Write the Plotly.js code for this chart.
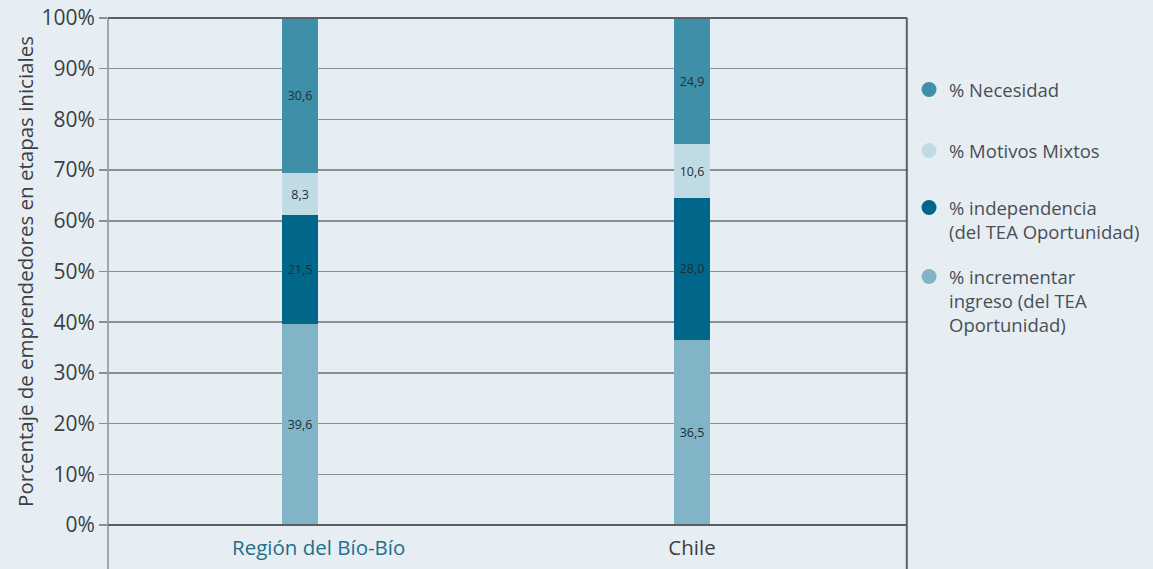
<!DOCTYPE html>
<html>
<head>
<meta charset="utf-8">
<script src="https://cdn.plot.ly/plotly-3.0.1.min.js"></script>
<style>html,body{margin:0;padding:0;background:#e6eef4;}#chart{width:1153px;height:569px;}</style>
</head>
<body>
<div id="chart"></div>
<script>
var categories = ["Región del Bío-Bío", "Chile"];
var tickLabels = ['<span style="color:#1f6f8b">&nbsp;&nbsp;&nbsp;&nbsp;&nbsp;&nbsp;&nbsp;Región del Bío-Bío</span>', 'Chile'];
var incrementar = [39.6, 36.5];
var independencia = [21.5, 28.0];
var mixtos = [8.3, 10.6];
var necesidad = [30.6, 24.9];
var seriesNames = ["% Necesidad", "% Motivos Mixtos", "% independencia<br>(del TEA Oportunidad)", "% incrementar<br>ingreso (del TEA<br>Oportunidad)"];
var seriesColors = ["#3f8fa8", "#c1dbe4", "#00678a", "#80b4c6"];
var yTicks = [0,10,20,30,40,50,60,70,80,90,100];
var yTickText = ["0%","10%","20%","30%","40%","50%","60%","70%","80%","90%","100%"];

function fmt(v){ return v.toFixed(1).replace('.', ','); }

var stackOrder = [
  {vals: incrementar, idx: 3},
  {vals: independencia, idx: 2},
  {vals: mixtos, idx: 1},
  {vals: necesidad, idx: 0}
];
var traces = [];
stackOrder.forEach(function(s){
  traces.push({
    type: 'bar', x: [0,1], y: s.vals,
    width: 0.092,
    marker: {color: seriesColors[s.idx], line: {width: 0}},
    text: s.vals.map(fmt), textposition: 'inside', insidetextanchor: 'middle',
    textangle: 0,
    textfont: {family: 'Open Sans, sans-serif', size: 12.5, color: '#1f2d36'},
    showlegend: false, hoverinfo: 'skip'
  });
});
// legend entries with circle markers, each in its own legend box
var legendIds = ['legend', 'legend2', 'legend3', 'legend4'];
[0,1,2,3].forEach(function(i){
  traces.push({
    type: 'scatter', mode: 'markers', x: [null], y: [null],
    name: seriesNames[i], legend: legendIds[i],
    marker: {color: seriesColors[i], size: 15, symbol: 'circle'},
    showlegend: true
  });
});

function legendBox(yTop){
  return {
    xref: 'container', yref: 'container',
    x: 0.7884, xanchor: 'left', y: yTop, yanchor: 'top',
    bgcolor: 'rgba(0,0,0,0)', font: {size: 18.5, color: '#4a4f54'},
    valign: 'top'
  };
}

var layout = {
  width: 1153, height: 569,
  paper_bgcolor: '#e6eef4', plot_bgcolor: '#e6eef4',
  margin: {l: 108, r: 245, t: 18, b: 44},
  barmode: 'stack',
  font: {family: 'Open Sans, sans-serif', color: '#3a3f44'},
  xaxis: {
    range: [-0.49, 1.551], tickvals: [0,1], ticktext: tickLabels,
    showgrid: false, zeroline: false, showline: false, ticks: '',
    tickfont: {size: 20.5, color: '#3a3f44'}, ticklabelstandoff: 8, fixedrange: true
  },
  yaxis: {
    range: [0, 100], tickvals: yTicks, ticktext: yTickText,
    showgrid: true, gridcolor: '#8a8f94', gridwidth: 1.5,
    zeroline: false, showline: false,
    ticks: 'outside', ticklen: 8, tickcolor: '#8a8f94', tickwidth: 1.5,
    tickfont: {size: 21, color: '#3a3f44'},
    title: {text: 'Porcentaje de emprendedores en etapas iniciales', font: {size: 20.5, color: '#3a3f44'}, standoff: 2},
    fixedrange: true
  },
  legend: legendBox(0.8752),
  legend2: legendBox(0.768),
  legend3: legendBox(0.6678),
  legend4: legendBox(0.5466),
  shapes: [
    {type: 'line', xref: 'paper', yref: 'paper', x0: 0, x1: 0, y0: 1, y1: -0.09, line: {color: '#8a8f94', width: 1.5}},
    {type: 'line', xref: 'paper', yref: 'paper', x0: 0.9985, x1: 0.9985, y0: 1.001, y1: -0.09, line: {color: '#5a6066', width: 2}},
    {type: 'line', xref: 'paper', yref: 'paper', x0: 0, x1: 0.9985, y0: 1, y1: 1, line: {color: '#5a6066', width: 2}},
    {type: 'line', xref: 'paper', yref: 'paper', x0: 0, x1: 0.9985, y0: 0, y1: 0, line: {color: '#5a6066', width: 2}, layer: 'above'}
  ]
};

Plotly.newPlot('chart', traces, layout, {displayModeBar: false, staticPlot: true});
</script>
</body>
</html>
